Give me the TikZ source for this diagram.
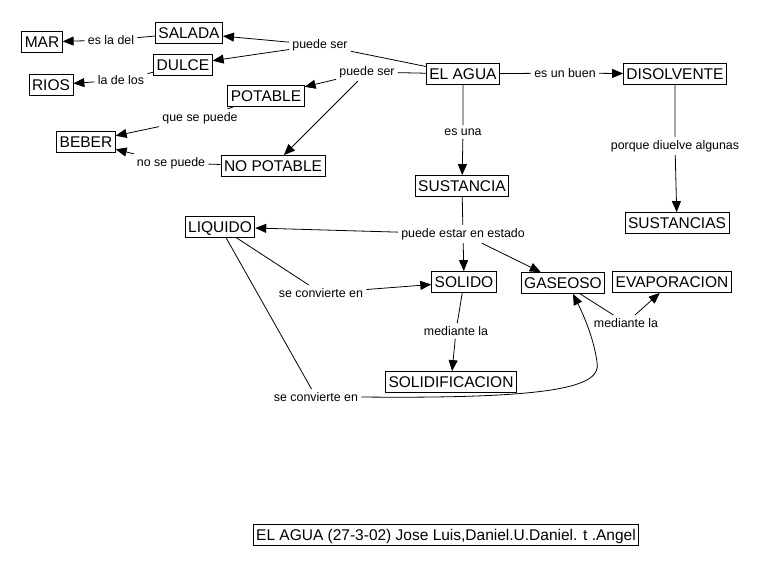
\documentclass[tikz,border=0pt]{standalone}
\usepackage{fontspec}
\setmainfont{Liberation Sans}
\usetikzlibrary{arrows.meta}
\tikzset{
	concept/.style={draw, line width=0.8pt, font=\fontsize{15.5}{18}\selectfont, minimum height=21pt, inner xsep=3pt, inner ysep=0pt, text height=11.1pt, text depth=0pt},
	link/.style={font=\fontsize{12.4}{14}\selectfont, inner sep=3pt},
	arr/.style={-{Triangle[length=11pt,width=9pt]}},
}
\begin{document}
\begin{tikzpicture}[x=1pt,y=-1pt,line width=0.8pt]
			\useasboundingbox (0,0) rectangle (765,567);
			\node[concept] (agua) at (463,74) {EL AGUA};
			\node[concept] (salada) at (189,33) {SALADA};
			\node[concept] (dulce) at (183,65) {DULCE};
			\node[concept] (mar) at (42,42) {MAR};
			\node[concept] (rios) at (51,85) {RIOS};
			\node[concept] (potable) at (266,96) {POTABLE};
			\node[concept] (nopotable) at (273,166) {NO POTABLE};
			\node[concept] (beber) at (86,142) {BEBER};
			\node[concept] (disolvente) at (675,74) {DISOLVENTE};
			\node[concept] (sustancias) at (677,223) {SUSTANCIAS};
			\node[concept] (sustancia) at (462,186) {SUSTANCIA};
			\node[concept] (liquido) at (220,227) {LIQUIDO};
			\node[concept] (solido) at (464,282) {SOLIDO};
			\node[concept] (gaseoso) at (563,283) {GASEOSO};
			\node[concept] (evaporacion) at (672,282) {EVAPORACION};
			\node[concept] (solidificacion) at (451,382) {SOLIDIFICACION};
			\node[concept] (titulo) at (446,535) {EL AGUA (27-3-02) Jose Luis,Daniel.U.Daniel. t .Angel};
			% linking phrases
			\node[link] (puedeserA) at (320,45) {puede ser};
			\node[link] (puedeserB) at (367,72) {puede ser};
			\node[link] (esladel) at (111,40) {es la del};
			\node[link] (ladelos) at (121,80) {la de los};
			\node[link] (quesepuede) at (200,118) {que se puede};
			\node[link] (nosepuede) at (171,163) {no se puede};
			\node[link] (esunbuen) at (565,73) {es un buen};
			\node[link] (porque) at (675,146) {porque diuelve algunas};
			\node[link] (esuna) at (463,132) {es una};
			\node[link] (estado) at (463,234) {puede estar en estado};
			\node[link] (convierteA) at (321,293) {se convierte en};
			\node[link] (convierteB) at (316,397) {se convierte en};
			\node[link] (medianteA) at (456,331) {mediante la};
			\node[link] (medianteB) at (626,323) {mediante la};
			\draw (agua)--(puedeserA) (agua)--(puedeserB) (salada)--(esladel) (dulce)--(ladelos);
			\draw (potable)--(quesepuede) (nopotable)--(nosepuede);
			\draw (agua)--(esunbuen) (disolvente)--(porque) (agua)--(esuna) (sustancia)--(estado);
			\draw (liquido)--(convierteA) (liquido)--(convierteB) (solido)--(medianteA) (gaseoso)--(medianteB);
			\draw[arr] (puedeserA)--(salada);
			\draw[arr] (puedeserA)--(dulce);
			\draw[arr] (esladel)--(mar);
			\draw[arr] (ladelos)--(rios);
			\draw[arr] (puedeserB)--(potable);
			\draw[arr] (puedeserB)--(nopotable);
			\draw[arr] (quesepuede)--(beber);
			\draw[arr] (nosepuede)--(beber);
			\draw[arr] (esunbuen)--(disolvente);
			\draw[arr] (porque)--(sustancias);
			\draw[arr] (esuna)--(sustancia);
			\draw[arr] (estado)--(liquido);
			\draw[arr] (estado)--(solido);
			\draw[arr] (estado)--(gaseoso);
			\draw[arr] (convierteA)--(solido);
			\draw[arr] (medianteA)--(solidificacion);
			\draw[arr] (medianteB)--(evaporacion);
			\draw[arr] (convierteB.east) .. controls (560,399) and (602,386) .. (597,362) .. controls (594,340) and (585,318) .. ([xshift=10pt]gaseoso.south);
	\end{tikzpicture}
\end{document}
